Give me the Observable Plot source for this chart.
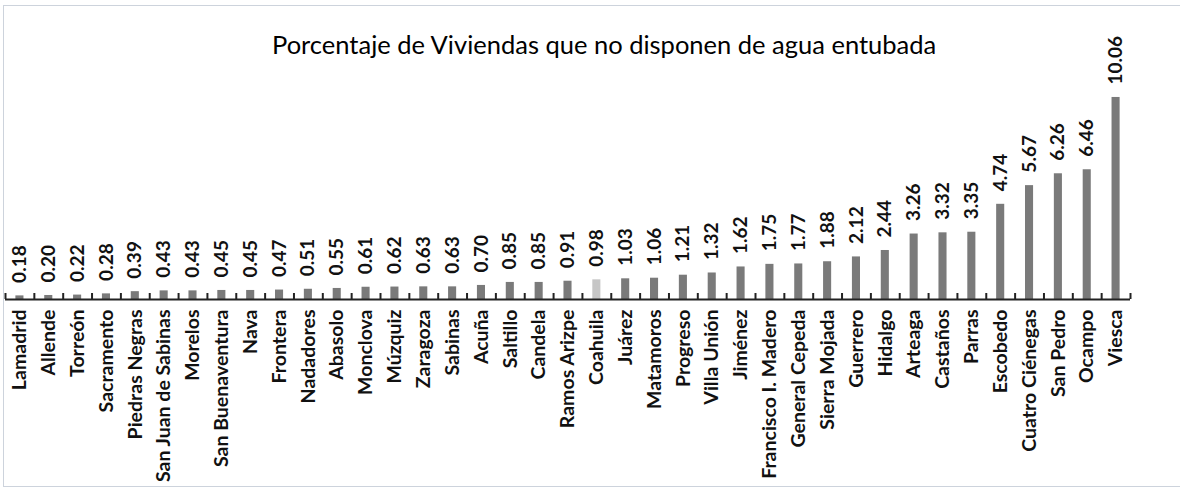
<!DOCTYPE html>
<html>
<head>
<meta charset="utf-8">
<script src="https://cdn.jsdelivr.net/npm/d3@7"></script>
<script src="https://cdn.jsdelivr.net/npm/@observablehq/plot@0.6"></script>
<style>
  html, body { margin: 0; padding: 0; background: #fff; }
  #wrap { position: relative; width: 1180px; height: 489px; overflow: hidden; font-family: Lato, sans-serif; }
  #border { position: absolute; left: 3px; top: 5px; width: 1180px; height: 482px; border: 1px solid #cdd3dc; box-sizing: border-box; }
  #title { position: absolute; left: 272px; top: 31px; font-size: 25.5px; line-height: 26px; color: #000; white-space: nowrap; }
  #chart { position: absolute; left: 0; top: 0; }
</style>
</head>
<body>
<div id="wrap">
  <div id="border"></div>
  <div id="chart"></div>
  <div id="title">Porcentaje de Viviendas que no disponen de agua entubada</div>
</div>
<script>
const municipios = ["Lamadrid","Allende","Torreón","Sacramento","Piedras Negras","San Juan de Sabinas","Morelos","San Buenaventura","Nava","Frontera","Nadadores","Abasolo","Monclova","Múzquiz","Zaragoza","Sabinas","Acuña","Saltillo","Candela","Ramos Arizpe","Coahuila","Juárez","Matamoros","Progreso","Villa Unión","Jiménez","Francisco I. Madero","General Cepeda","Sierra Mojada","Guerrero","Hidalgo","Arteaga","Castaños","Parras","Escobedo","Cuatro Ciénegas","San Pedro","Ocampo","Viesca"];
const porcentajes = [0.18,0.20,0.22,0.28,0.39,0.43,0.43,0.45,0.45,0.47,0.51,0.55,0.61,0.62,0.63,0.63,0.70,0.85,0.85,0.91,0.98,1.03,1.06,1.21,1.32,1.62,1.75,1.77,1.88,2.12,2.44,3.26,3.32,3.35,4.74,5.67,6.26,6.46,10.06];
const destacado = "Coahuila";

const data = municipios.map((name, i) => ({name, value: porcentajes[i]}));

const W = 1180, H = 489;
const mL = 5, mR = 50, mT = 58, mB = 190;
const pInner = 0.72, pOuter = pInner / 2;
const step = (W - mL - mR) / (municipios.length - pInner + 2 * pOuter);

const chart = Plot.plot({
  width: W,
  height: H,
  marginLeft: mL,
  marginRight: mR,
  marginTop: mT,
  marginBottom: mB,
  style: {fontFamily: "Lato, sans-serif", color: "#111", background: "transparent"},
  x: {type: "band", domain: municipios, paddingInner: pInner, paddingOuter: pOuter, axis: null},
  y: {domain: [0, 12], axis: null},
  color: {type: "identity"},
  marks: [
    Plot.barY(data, {x: "name", y: "value", fill: d => d.name === destacado ? "#c6c6c6" : "#7a7a7a"}),
    Plot.ruleY([0], {stroke: "#222", strokeWidth: 2}),
    Plot.ruleX(municipios, {x: d => d, y1: 0, y2: 0.3, dx: step / 2, stroke: "#222", strokeWidth: 2}),
    Plot.ruleX([municipios[0]], {x: d => d, y1: 0, y2: 0.3, dx: -step / 2, stroke: "#222", strokeWidth: 2}),
    Plot.text(data, {x: "name", y: "value", text: d => d.value.toFixed(2), rotate: -90, textAnchor: "start", dy: -13, fontSize: 19, fontWeight: "bold", fill: "#111"}),
    Plot.axisX({tickRotate: -90, tickSize: 0, tickPadding: 10, fontSize: 19.5, fontWeight: "bold", textAnchor: "end", label: null, fill: "#111"})
  ]
});

document.getElementById("chart").appendChild(chart);
</script>
</body>
</html>
